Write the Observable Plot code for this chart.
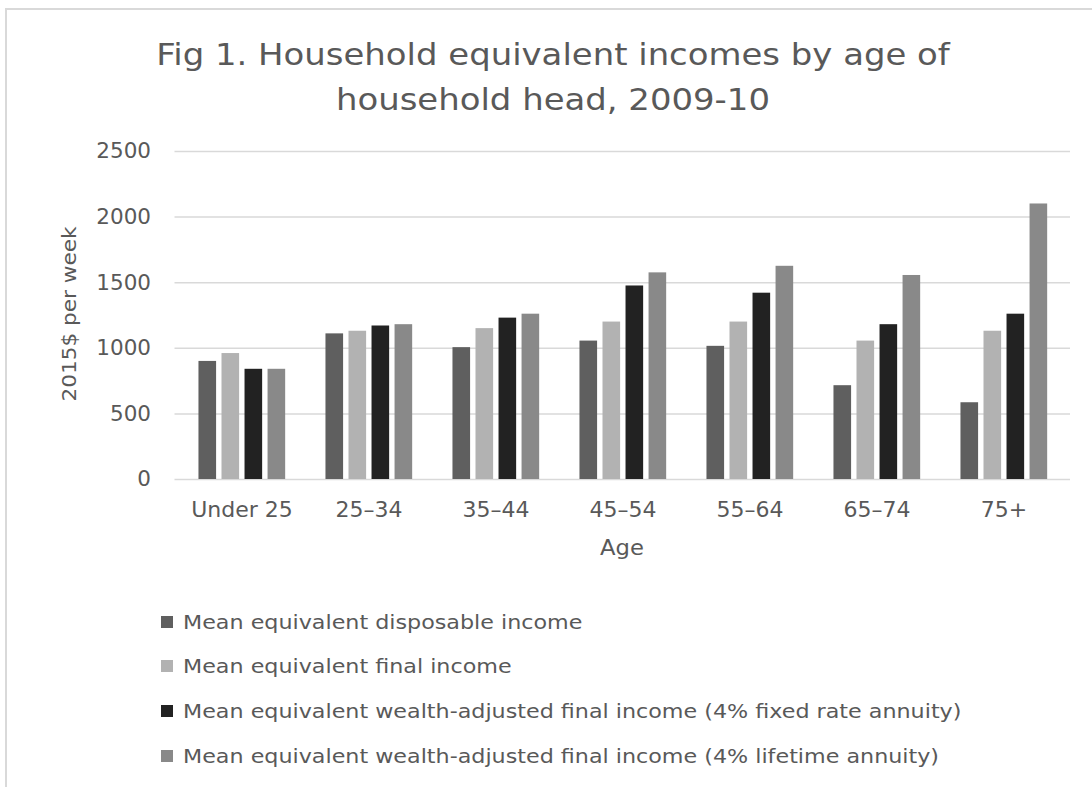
<!DOCTYPE html>
<html>
<head>
<meta charset="utf-8">
<script src="https://cdn.jsdelivr.net/npm/d3@7"></script>
<script src="https://cdn.jsdelivr.net/npm/@observablehq/plot@0.6"></script>
<style>
  html, body { margin: 0; padding: 0; background: #fff; }
  #wrap { position: relative; width: 1092px; height: 787px; overflow: hidden; font-family: "DejaVu Sans", sans-serif; color: #595959; }
  #frame { position: absolute; left: 5px; top: 8px; width: 1200px; height: 900px; border: 2px solid #d9d9d9; box-sizing: border-box; }
  .title { position: absolute; left: 553px; font-size: 30px; line-height: 30px; white-space: nowrap; transform: translateX(-50%) scaleX(1.13); }
  #ylabel { position: absolute; left: 69px; top: 314px; transform: translate(-50%, -50%) rotate(-90deg) scaleX(1.08); font-size: 20px; white-space: nowrap; }
  #xlabel { position: absolute; left: 622px; top: 548px; transform: translate(-50%, -50%) scaleX(1.08); font-size: 21px; white-space: nowrap; }
  #chart { position: absolute; left: 0; top: 130px; }
  .leg { position: absolute; left: 161px; font-size: 19px; white-space: nowrap; display: flex; align-items: center; }
  .leg .tx { display: inline-block; transform: scaleX(1.17); transform-origin: left center; }
  .sw { width: 12px; height: 12px; display: inline-block; margin-right: 10px; }
</style>
</head>
<body>
<div id="wrap">
  <div id="frame"></div>
  <div class="title" style="top:40px">Fig 1. Household equivalent incomes by age of</div>
  <div class="title" style="top:85px">household head, 2009-10</div>
  <div id="ylabel">2015$ per week</div>
  <div id="chart"></div>
  <div id="xlabel">Age</div>
  <div id="legend"></div>
</div>
<script>
const ages = ["Under 25", "25–34", "35–44", "45–54", "55–64", "65–74", "75+"];
const seriesNames = [
  "Mean equivalent disposable income",
  "Mean equivalent final income",
  "Mean equivalent wealth-adjusted final income (4% fixed rate annuity)",
  "Mean equivalent wealth-adjusted final income (4% lifetime annuity)"
];
const disposable = [900, 1110, 1005, 1055, 1015, 715, 585];
const finalIncome = [960, 1130, 1150, 1200, 1200, 1055, 1130];
const fixedRate = [840, 1170, 1230, 1475, 1420, 1180, 1260];
const lifetime = [840, 1180, 1260, 1575, 1625, 1555, 2100];
const yTicks = [0, 500, 1000, 1500, 2000, 2500];
const colors = ["#5f5f5f", "#b2b2b2", "#222222", "#898989"];

const seriesValues = [disposable, finalIncome, fixedRate, lifetime];

const width = 1092, height = 440;
const marginLeft = 174.5, marginRight = 22, marginTop = 21, marginBottom = 91;
const step = (width - marginLeft - marginRight) / ages.length;
const groupPad = 0.16, barFrac = 0.145, stride = 0.18;

const barMarks = seriesValues.map((vals, i) => {
  const data = ages.map((a, j) => ({age: a, value: vals[j], series: seriesNames[i]}));
  const left = step * (groupPad + stride * i);
  const right = step - left - step * barFrac;
  return Plot.barY(data, {
    x: "age", y: "value", fill: colors[i],
    insetLeft: left, insetRight: right
  });
});

const chart = Plot.plot({
  width, height, marginLeft, marginRight, marginTop, marginBottom,
  style: {fontFamily: "DejaVu Sans, sans-serif", color: "#595959", background: "transparent"},
  x: {domain: ages, padding: 0, label: null},
  y: {domain: [0, 2500], label: null},
  marks: [
    Plot.ruleY(yTicks, {stroke: "#d9d9d9", strokeWidth: 1.5}),
    ...barMarks,
    Plot.axisY(yTicks, {tickSize: 0, tickPadding: 24, fontSize: 21.5, fill: "#595959", label: null, tickFormat: d => String(d)}),
    Plot.axisX({tickSize: 0, tickPadding: 22, fontSize: 22, fill: "#595959", label: null})
  ]
});
document.getElementById("chart").appendChild(chart);

const legend = document.getElementById("legend");
const legTops = [623, 667, 712, 757];
seriesNames.forEach((n, i) => {
  const d = document.createElement("div");
  d.className = "leg";
  d.style.top = (legTops[i] - 12) + "px";
  d.innerHTML = `<span class="sw" style="background:${colors[i]}"></span><span class="tx">${n}</span>`;
  legend.appendChild(d);
});
</script>
</body>
</html>
